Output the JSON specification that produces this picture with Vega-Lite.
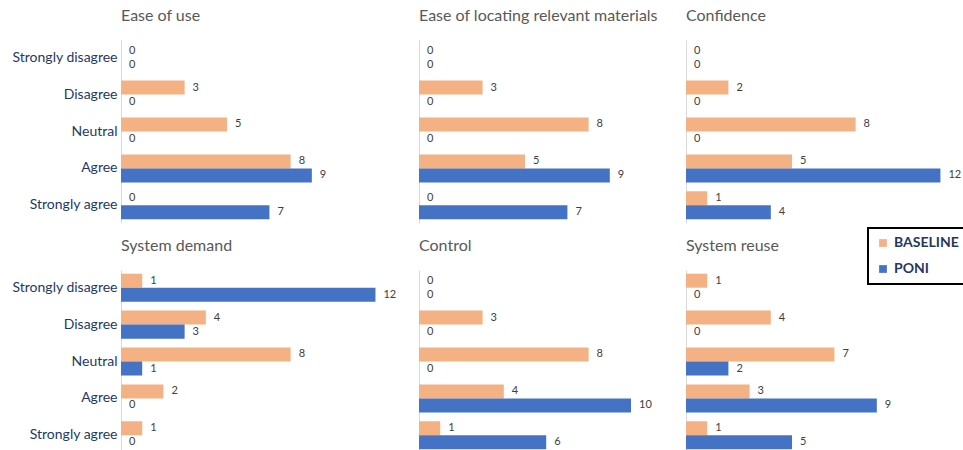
{
  "$schema": "https://vega.github.io/schema/vega-lite/v6.json",
  "background": "white",
  "padding": {"left": 11, "top": 8, "right": 0, "bottom": 0},
  "data": {"values": [
    {"panel": "Ease of use", "response": "Strongly disagree", "group": "BASELINE", "count": 0},
    {"panel": "Ease of use", "response": "Strongly disagree", "group": "PONI", "count": 0},
    {"panel": "Ease of use", "response": "Disagree", "group": "BASELINE", "count": 3},
    {"panel": "Ease of use", "response": "Disagree", "group": "PONI", "count": 0},
    {"panel": "Ease of use", "response": "Neutral", "group": "BASELINE", "count": 5},
    {"panel": "Ease of use", "response": "Neutral", "group": "PONI", "count": 0},
    {"panel": "Ease of use", "response": "Agree", "group": "BASELINE", "count": 8},
    {"panel": "Ease of use", "response": "Agree", "group": "PONI", "count": 9},
    {"panel": "Ease of use", "response": "Strongly agree", "group": "BASELINE", "count": 0},
    {"panel": "Ease of use", "response": "Strongly agree", "group": "PONI", "count": 7},
    {"panel": "Ease of locating relevant materials", "response": "Strongly disagree", "group": "BASELINE", "count": 0},
    {"panel": "Ease of locating relevant materials", "response": "Strongly disagree", "group": "PONI", "count": 0},
    {"panel": "Ease of locating relevant materials", "response": "Disagree", "group": "BASELINE", "count": 3},
    {"panel": "Ease of locating relevant materials", "response": "Disagree", "group": "PONI", "count": 0},
    {"panel": "Ease of locating relevant materials", "response": "Neutral", "group": "BASELINE", "count": 8},
    {"panel": "Ease of locating relevant materials", "response": "Neutral", "group": "PONI", "count": 0},
    {"panel": "Ease of locating relevant materials", "response": "Agree", "group": "BASELINE", "count": 5},
    {"panel": "Ease of locating relevant materials", "response": "Agree", "group": "PONI", "count": 9},
    {"panel": "Ease of locating relevant materials", "response": "Strongly agree", "group": "BASELINE", "count": 0},
    {"panel": "Ease of locating relevant materials", "response": "Strongly agree", "group": "PONI", "count": 7},
    {"panel": "Confidence", "response": "Strongly disagree", "group": "BASELINE", "count": 0},
    {"panel": "Confidence", "response": "Strongly disagree", "group": "PONI", "count": 0},
    {"panel": "Confidence", "response": "Disagree", "group": "BASELINE", "count": 2},
    {"panel": "Confidence", "response": "Disagree", "group": "PONI", "count": 0},
    {"panel": "Confidence", "response": "Neutral", "group": "BASELINE", "count": 8},
    {"panel": "Confidence", "response": "Neutral", "group": "PONI", "count": 0},
    {"panel": "Confidence", "response": "Agree", "group": "BASELINE", "count": 5},
    {"panel": "Confidence", "response": "Agree", "group": "PONI", "count": 12},
    {"panel": "Confidence", "response": "Strongly agree", "group": "BASELINE", "count": 1},
    {"panel": "Confidence", "response": "Strongly agree", "group": "PONI", "count": 4},
    {"panel": "System demand", "response": "Strongly disagree", "group": "BASELINE", "count": 1},
    {"panel": "System demand", "response": "Strongly disagree", "group": "PONI", "count": 12},
    {"panel": "System demand", "response": "Disagree", "group": "BASELINE", "count": 4},
    {"panel": "System demand", "response": "Disagree", "group": "PONI", "count": 3},
    {"panel": "System demand", "response": "Neutral", "group": "BASELINE", "count": 8},
    {"panel": "System demand", "response": "Neutral", "group": "PONI", "count": 1},
    {"panel": "System demand", "response": "Agree", "group": "BASELINE", "count": 2},
    {"panel": "System demand", "response": "Agree", "group": "PONI", "count": 0},
    {"panel": "System demand", "response": "Strongly agree", "group": "BASELINE", "count": 1},
    {"panel": "System demand", "response": "Strongly agree", "group": "PONI", "count": 0},
    {"panel": "Control", "response": "Strongly disagree", "group": "BASELINE", "count": 0},
    {"panel": "Control", "response": "Strongly disagree", "group": "PONI", "count": 0},
    {"panel": "Control", "response": "Disagree", "group": "BASELINE", "count": 3},
    {"panel": "Control", "response": "Disagree", "group": "PONI", "count": 0},
    {"panel": "Control", "response": "Neutral", "group": "BASELINE", "count": 8},
    {"panel": "Control", "response": "Neutral", "group": "PONI", "count": 0},
    {"panel": "Control", "response": "Agree", "group": "BASELINE", "count": 4},
    {"panel": "Control", "response": "Agree", "group": "PONI", "count": 10},
    {"panel": "Control", "response": "Strongly agree", "group": "BASELINE", "count": 1},
    {"panel": "Control", "response": "Strongly agree", "group": "PONI", "count": 6},
    {"panel": "System reuse", "response": "Strongly disagree", "group": "BASELINE", "count": 1},
    {"panel": "System reuse", "response": "Strongly disagree", "group": "PONI", "count": 0},
    {"panel": "System reuse", "response": "Disagree", "group": "BASELINE", "count": 4},
    {"panel": "System reuse", "response": "Disagree", "group": "PONI", "count": 0},
    {"panel": "System reuse", "response": "Neutral", "group": "BASELINE", "count": 7},
    {"panel": "System reuse", "response": "Neutral", "group": "PONI", "count": 2},
    {"panel": "System reuse", "response": "Agree", "group": "BASELINE", "count": 3},
    {"panel": "System reuse", "response": "Agree", "group": "PONI", "count": 9},
    {"panel": "System reuse", "response": "Strongly agree", "group": "BASELINE", "count": 1},
    {"panel": "System reuse", "response": "Strongly agree", "group": "PONI", "count": 5}
  ]},
  "vconcat": [
    {"hconcat": [
      {"title": "Ease of use", "width": 278, "height": 183,
       "transform": [{"filter": "datum.panel === 'Ease of use'"}],
       "encoding": {
         "y": {"field": "response", "type": "nominal", "sort": ["Strongly disagree", "Disagree", "Neutral", "Agree", "Strongly agree"], "scale": {"paddingInner": 0.24, "paddingOuter": 0.1}, "axis": {"title": null, "ticks": false, "labelPadding": 4}},
         "yOffset": {"field": "group", "type": "nominal", "sort": ["BASELINE", "PONI"]},
         "x": {"field": "count", "type": "quantitative", "scale": {"domain": [0, 13.11], "nice": false}, "axis": null}
       },
       "layer": [
         {"mark": {"type": "bar"}, "encoding": {"color": {"field": "group", "type": "nominal", "scale": {"domain": ["BASELINE", "PONI"], "range": ["#F4B183", "#4472C4"]}}}},
         {"mark": {"type": "text", "align": "left", "baseline": "middle", "dx": 8, "fontSize": 11, "color": "#404040", "font": "Lato"}, "encoding": {"text": {"field": "count", "type": "quantitative"}}}
       ]},
      {"title": "Ease of locating relevant materials", "width": 247, "height": 183,
       "transform": [{"filter": "datum.panel === 'Ease of locating relevant materials'"}],
       "encoding": {
         "y": {"field": "response", "type": "nominal", "sort": ["Strongly disagree", "Disagree", "Neutral", "Agree", "Strongly agree"], "scale": {"paddingInner": 0.24, "paddingOuter": 0.1}, "axis": {"title": null, "ticks": false, "labels": false}},
         "yOffset": {"field": "group", "type": "nominal", "sort": ["BASELINE", "PONI"]},
         "x": {"field": "count", "type": "quantitative", "scale": {"domain": [0, 11.65], "nice": false}, "axis": null}
       },
       "layer": [
         {"mark": {"type": "bar"}, "encoding": {"color": {"field": "group", "type": "nominal", "scale": {"domain": ["BASELINE", "PONI"], "range": ["#F4B183", "#4472C4"]}}}},
         {"mark": {"type": "text", "align": "left", "baseline": "middle", "dx": 8, "fontSize": 11, "color": "#404040", "font": "Lato"}, "encoding": {"text": {"field": "count", "type": "quantitative"}}}
       ]},
      {"title": "Confidence", "width": 268, "height": 183,
       "transform": [{"filter": "datum.panel === 'Confidence'"}],
       "encoding": {
         "y": {"field": "response", "type": "nominal", "sort": ["Strongly disagree", "Disagree", "Neutral", "Agree", "Strongly agree"], "scale": {"paddingInner": 0.24, "paddingOuter": 0.1}, "axis": {"title": null, "ticks": false, "labels": false}},
         "yOffset": {"field": "group", "type": "nominal", "sort": ["BASELINE", "PONI"]},
         "x": {"field": "count", "type": "quantitative", "scale": {"domain": [0, 12.64], "nice": false}, "axis": null}
       },
       "layer": [
         {"mark": {"type": "bar"}, "encoding": {"color": {"field": "group", "type": "nominal", "scale": {"domain": ["BASELINE", "PONI"], "range": ["#F4B183", "#4472C4"]}}}},
         {"mark": {"type": "text", "align": "left", "baseline": "middle", "dx": 8, "fontSize": 11, "color": "#404040", "font": "Lato"}, "encoding": {"text": {"field": "count", "type": "quantitative"}}}
       ]}
    ]},
    {"hconcat": [
      {"title": "System demand", "width": 278, "height": 183,
       "transform": [{"filter": "datum.panel === 'System demand'"}],
       "encoding": {
         "y": {"field": "response", "type": "nominal", "sort": ["Strongly disagree", "Disagree", "Neutral", "Agree", "Strongly agree"], "scale": {"paddingInner": 0.24, "paddingOuter": 0.1}, "axis": {"title": null, "ticks": false, "labelPadding": 4}},
         "yOffset": {"field": "group", "type": "nominal", "sort": ["BASELINE", "PONI"]},
         "x": {"field": "count", "type": "quantitative", "scale": {"domain": [0, 13.11], "nice": false}, "axis": null}
       },
       "layer": [
         {"mark": {"type": "bar"}, "encoding": {"color": {"field": "group", "type": "nominal", "scale": {"domain": ["BASELINE", "PONI"], "range": ["#F4B183", "#4472C4"]}}}},
         {"mark": {"type": "text", "align": "left", "baseline": "middle", "dx": 8, "fontSize": 11, "color": "#404040", "font": "Lato"}, "encoding": {"text": {"field": "count", "type": "quantitative"}}}
       ]},
      {"title": "Control", "width": 247, "height": 183,
       "transform": [{"filter": "datum.panel === 'Control'"}],
       "encoding": {
         "y": {"field": "response", "type": "nominal", "sort": ["Strongly disagree", "Disagree", "Neutral", "Agree", "Strongly agree"], "scale": {"paddingInner": 0.24, "paddingOuter": 0.1}, "axis": {"title": null, "ticks": false, "labels": false}},
         "yOffset": {"field": "group", "type": "nominal", "sort": ["BASELINE", "PONI"]},
         "x": {"field": "count", "type": "quantitative", "scale": {"domain": [0, 11.65], "nice": false}, "axis": null}
       },
       "layer": [
         {"mark": {"type": "bar"}, "encoding": {"color": {"field": "group", "type": "nominal", "scale": {"domain": ["BASELINE", "PONI"], "range": ["#F4B183", "#4472C4"]}}}},
         {"mark": {"type": "text", "align": "left", "baseline": "middle", "dx": 8, "fontSize": 11, "color": "#404040", "font": "Lato"}, "encoding": {"text": {"field": "count", "type": "quantitative"}}}
       ]},
      {"title": "System reuse", "width": 268, "height": 183,
       "transform": [{"filter": "datum.panel === 'System reuse'"}],
       "encoding": {
         "y": {"field": "response", "type": "nominal", "sort": ["Strongly disagree", "Disagree", "Neutral", "Agree", "Strongly agree"], "scale": {"paddingInner": 0.24, "paddingOuter": 0.1}, "axis": {"title": null, "ticks": false, "labels": false}},
         "yOffset": {"field": "group", "type": "nominal", "sort": ["BASELINE", "PONI"]},
         "x": {"field": "count", "type": "quantitative", "scale": {"domain": [0, 12.64], "nice": false}, "axis": null}
       },
       "layer": [
         {"mark": {"type": "bar"}, "encoding": {"color": {"field": "group", "type": "nominal", "scale": {"domain": ["BASELINE", "PONI"], "range": ["#F4B183", "#4472C4"]}}}},
         {"mark": {"type": "text", "align": "left", "baseline": "middle", "dx": 8, "fontSize": 11, "color": "#404040", "font": "Lato"}, "encoding": {"text": {"field": "count", "type": "quantitative"}}}
       ]}
    ]}
  ],
  "spacing": 15,
  "config": {
    "concat": {"spacing": 20},
    "view": {"stroke": null},
    "font": "Lato",
    "title": {"anchor": "start", "frame": "group", "fontSize": 16, "fontWeight": "normal", "color": "#595959", "font": "Lato", "offset": 16},
    "axis": {"domainColor": "#D9D9D9", "labelColor": "#1F3864", "labelFontSize": 14, "labelFont": "Lato", "grid": false},
    "legend": {"orient": "none", "legendX": 747, "legendY": 188, "title": null, "strokeColor": "black", "strokeWidth": 2, "padding": 8, "symbolType": "square", "symbolSize": 60, "symbolStrokeWidth": 0, "labelFontSize": 14, "labelFontWeight": "bold", "labelColor": "#1F3864", "labelFont": "Lato", "rowPadding": 12, "symbolOffset": 0, "labelOffset": 4}
  }
}
